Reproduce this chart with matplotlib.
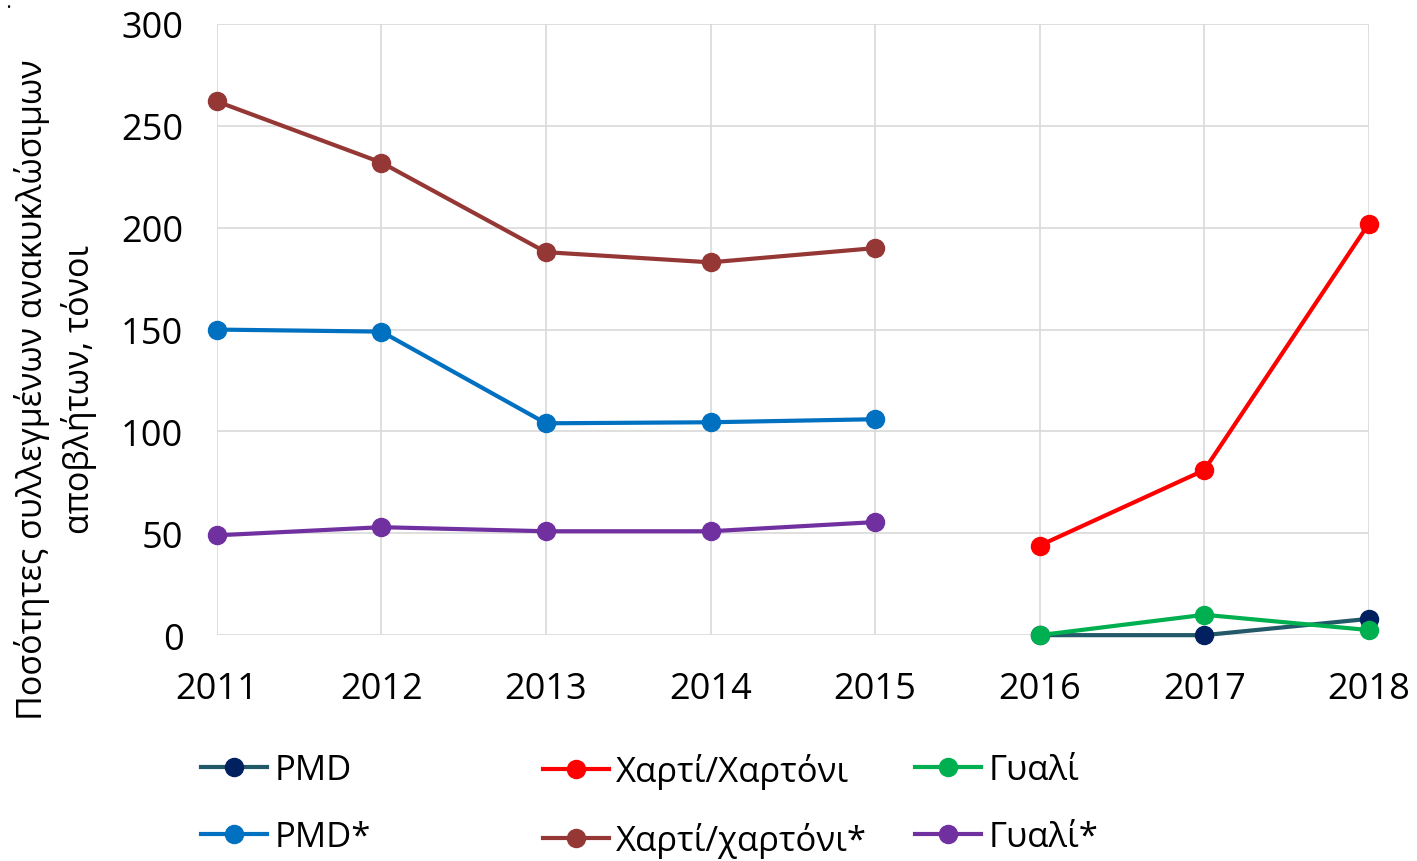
import matplotlib
matplotlib.use("Agg")
from matplotlib import pyplot as plt

plt.rcParams['font.family'] = ['Open Sans', 'DejaVu Sans']

years_old = [2011, 2012, 2013, 2014, 2015]
years_new = [2016, 2017, 2018]

pmd = [0, 0, 8]
paper = [44, 81, 202]
glass = [0, 10, 2.5]

pmd_old = [150, 149, 104, 104.5, 106]
paper_old = [262, 232, 188, 183, 190]
glass_old = [49, 53, 51, 51, 55.5]

fig = plt.figure(figsize=(14.17, 8.62), dpi=100)
ax = fig.add_axes([0.153, 0.262, 0.813, 0.709])

lw = 3
ms = 13
h_pmd, = ax.plot(years_new, pmd, color='#215968', lw=lw, marker='o', ms=ms,
                 mfc='#002060', mec='#002060', clip_on=False, label='PMD')
h_paper, = ax.plot(years_new, paper, color='#FF0000', lw=lw, marker='o', ms=ms,
                   clip_on=False, label='Χαρτί/Χαρτόνι')
h_glass, = ax.plot(years_new, glass, color='#00B050', lw=lw, marker='o', ms=ms,
                   clip_on=False, label='Γυαλί')
h_pmd_o, = ax.plot(years_old, pmd_old, color='#0070C0', lw=lw, marker='o', ms=ms,
                   clip_on=False, label='PMD*')
h_paper_o, = ax.plot(years_old, paper_old, color='#953735', lw=lw, marker='o', ms=ms,
                     clip_on=False, label='Χαρτί/χαρτόνι*')
h_glass_o, = ax.plot(years_old, glass_old, color='#7030A0', lw=lw, marker='o', ms=ms,
                     clip_on=False, label='Γυαλί*')

ax.set_xlim(2011, 2018)
ax.set_ylim(0, 300)
ax.set_xticks(years_old + years_new)
ax.set_yticks(range(0, 301, 50))
ax.grid(True, color='#D9D9D9', lw=1.2)
ax.set_axisbelow(True)
for s in ax.spines.values():
    s.set_visible(False)
ax.tick_params(length=0, labelsize=26)
ax.tick_params(axis='x', pad=26)
ax.tick_params(axis='y', pad=24)
ax.set_ylabel('Ποσότητες συλλεγμένων ανακυκλώσιμων\nαποβλήτων, τόνοι', fontsize=24.5,
              linespacing=1.4)
ax.yaxis.set_label_coords(-0.104, 0.403)

groups = [([h_pmd, h_pmd_o], 0.142), ([h_paper, h_paper_o], 0.383), ([h_glass, h_glass_o], 0.646)]
for hs, x in groups:
    lg = fig.legend(handles=hs, loc='upper left', bbox_to_anchor=(x, 0.125), frameon=False,
                    fontsize=25, handlelength=1.9, handletextpad=0.2, labelspacing=0.95,
                    borderpad=0, borderaxespad=0)

fig.text(0.004, 0.997, '•', fontsize=8, va='top')

plt.savefig('out.png')
